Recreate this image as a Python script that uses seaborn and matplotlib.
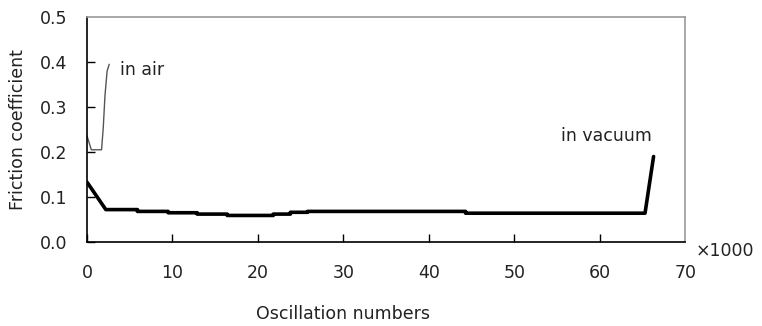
import matplotlib
matplotlib.use("Agg")
import matplotlib.pyplot as plt
import seaborn as sns
import pandas as pd

# Friction coefficient vs. oscillation count (x in thousands)
air_x = [0.0, 0.5, 1.7, 1.9, 2.1, 2.35, 2.6]
air_y = [0.236, 0.205, 0.205, 0.254, 0.325, 0.38, 0.395]

vac_x = [0.0, 2.2, 5.9, 5.9, 9.5, 9.5, 12.9, 12.9, 16.4, 16.4, 21.8, 21.8,
         23.8, 23.8, 25.8, 25.8, 44.3, 44.3, 65.3, 66.3]
vac_y = [0.133, 0.072, 0.072, 0.068, 0.068, 0.065, 0.065, 0.062, 0.062, 0.059,
         0.059, 0.062, 0.062, 0.066, 0.066, 0.068, 0.068, 0.064, 0.064, 0.19]

x_ticks = [0, 10, 20, 30, 40, 50, 60, 70]
y_ticks = [0.0, 0.1, 0.2, 0.3, 0.4, 0.5]

sns.set_theme(style="white")
plt.rcParams["font.family"] = ["DejaVu Sans"]

FS = 12.5
TXT = "#222222"

fig = plt.figure(figsize=(7.62, 3.26), dpi=100)
ax = fig.add_axes([0.1142, 0.2577, 0.785, 0.690])

air = pd.DataFrame({"x": air_x, "y": air_y})
vac = pd.DataFrame({"x": vac_x, "y": vac_y})
sns.lineplot(data=air, x="x", y="y", ax=ax, sort=False, estimator=None,
             color="#555555", linewidth=1.0)
sns.lineplot(data=vac, x="x", y="y", ax=ax, sort=False, estimator=None,
             color="black", linewidth=2.6)

ax.set_xlim(0, 70)
ax.set_ylim(0, 0.5)
ax.set_xticks(x_ticks)
ax.set_xticklabels([str(t) for t in x_ticks])
ax.set_yticks(y_ticks)
ax.set_yticklabels([f"{t:.1f}" for t in y_ticks])
ax.tick_params(axis="both", direction="in", length=6, width=1.0,
               bottom=True, left=True, top=False, right=False,
               color="black", labelsize=FS, labelcolor=TXT, pad=14)
ax.tick_params(axis="x", pad=16)
# end ticks sit on the frame; keep only their labels
ax.yaxis.get_major_ticks()[-1].tick1line.set_visible(False)
ax.xaxis.get_major_ticks()[-1].tick1line.set_visible(False)

for side in ("left", "bottom"):
    ax.spines[side].set_color("black")
    ax.spines[side].set_linewidth(1.2)
for side in ("top", "right"):
    ax.spines[side].set_color("#9a9a9a")
    ax.spines[side].set_linewidth(1.2)

ax.set_xlabel("Oscillation numbers", fontsize=FS, color=TXT)
ax.set_ylabel("Friction coefficient", fontsize=FS, color=TXT)
ax.xaxis.set_label_coords(30 / 70, -0.28)
ax.yaxis.set_label_coords(-0.1, 0.5)

ax.text(3.9, 0.382, "in air", fontsize=FS, color=TXT, va="center")
ax.text(55.5, 0.235, "in vacuum", fontsize=FS, color=TXT, va="center")
ax.text(1.018, -0.04, "×1000", transform=ax.transAxes, fontsize=FS,
        color=TXT, va="center", ha="left")

fig.savefig("out.png", dpi=100)
